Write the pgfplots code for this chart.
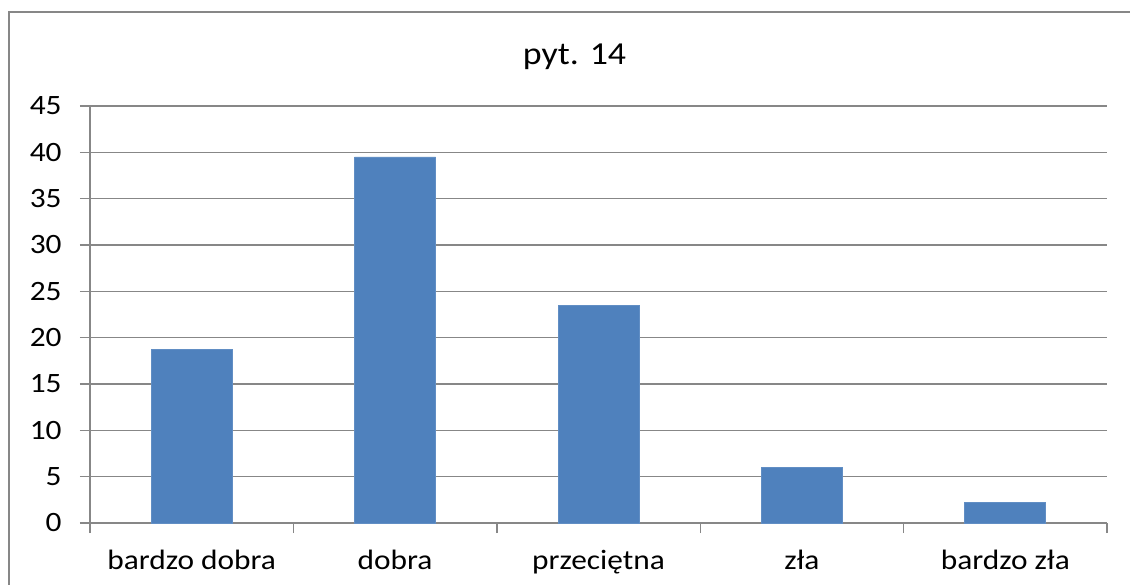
\documentclass[border=0pt]{standalone}
\usepackage{pgfplots}
\pgfplotsset{compat=1.18}
\usepackage{fontspec}
\setmainfont{Carlito}[FakeStretch=1.12]
\definecolor{barblue}{HTML}{4F81BD}
\definecolor{gridgray}{HTML}{878787}
\begin{document}
\begin{tikzpicture}
\path[use as bounding box] (0,0) rectangle (565pt,292pt);
\clip (0,0) rectangle (565pt,292pt);
\fill[white] (0,0) rectangle (565pt,292pt);
\draw[gridgray, line width=1pt] (4.5pt,-10pt) rectangle (580pt,286pt);
\begin{axis}[
  at={(45pt,30.5pt)}, anchor=south west,
  scale only axis, width=508.5pt, height=208.5pt,
  xmin=0.5, xmax=5.5, ymin=0, ymax=45,
  ytick={0,5,...,45},
  xtick={0.5,1.5,...,5.5},
  x tick label as interval,
  xticklabels={bardzo dobra,dobra,przeciętna,zła,bardzo zła},
  axis lines*=left,
  axis line style={gridgray, line width=0.7pt},
  ymajorgrids, grid style={gridgray, line width=0.7pt},
  tick align=outside,
  major tick length=5pt,
  tick style={gridgray, line width=0.7pt},
  /pgf/number format/assume math mode=true,
  ticklabel style={font=\fontsize{14}{16}\selectfont, text=black},
  yticklabel style={anchor=east, inner sep=0pt, xshift=-9pt},
  xticklabel style={anchor=base, inner sep=0pt, yshift=-18pt},
  ybar, bar width=40.5pt,
  clip=false,
]
\addplot[fill=barblue, draw=barblue!90!white, line width=0.4pt] coordinates {(1,18.7) (2,39.5) (3,23.5) (4,6.0) (5,2.2)};
\end{axis}
\node[anchor=base, font=\fontsize{16}{18}\selectfont, inner sep=0pt] at (287.25pt,259.5pt) {pyt. 14};
\end{tikzpicture}
\end{document}
